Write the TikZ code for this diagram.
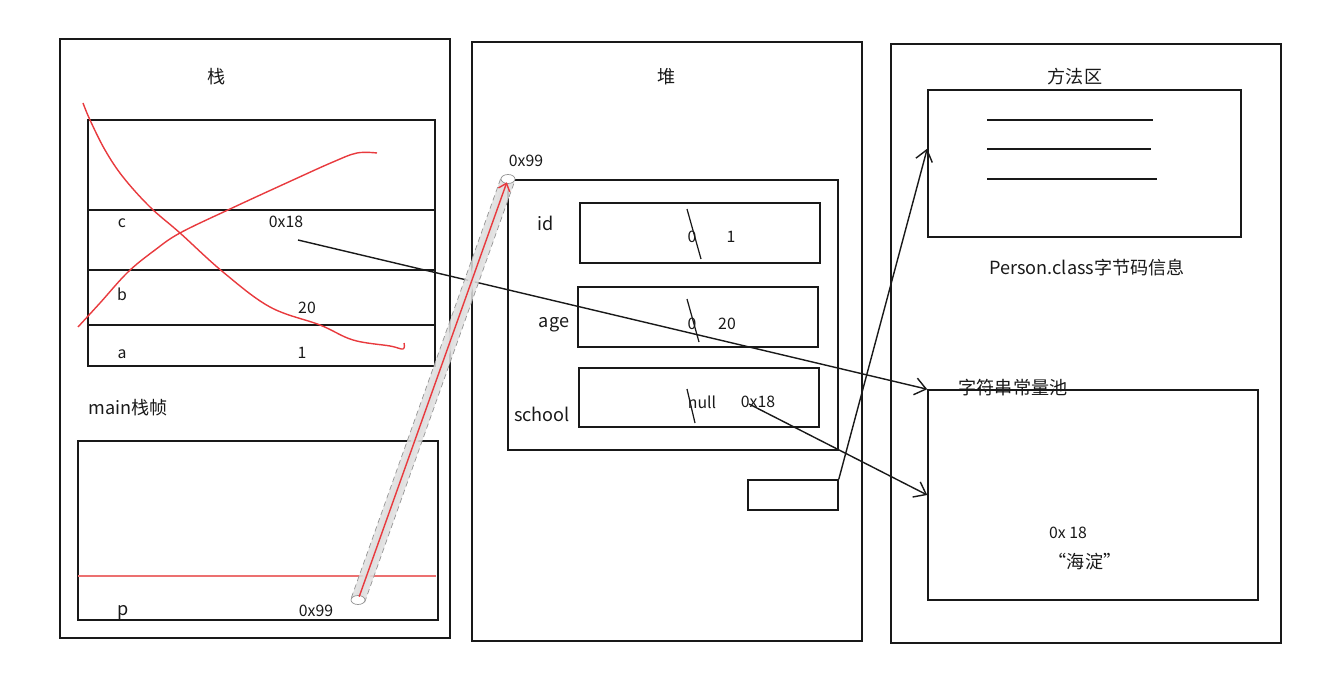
\documentclass[tikz,border=0pt]{standalone}
\usepackage{fontspec}
\setmainfont{Noto Sans CJK SC}
\usetikzlibrary{arrows.meta,calc}
\definecolor{Ink}{RGB}{25,25,25}
\definecolor{Pen}{RGB}{232,58,62}
\definecolor{SoftPen}{RGB}{236,112,112}
\definecolor{TubeGray}{RGB}{222,222,222}
\definecolor{TubeEdge}{RGB}{150,150,150}
\tikzset{
  area/.style={draw=Ink,line width=.9pt,inner sep=0pt,minimum width=7.8cm,minimum height=11.98cm},
  cell/.style={draw=Ink,line width=.9pt,inner sep=0pt},
  field/.style={cell,minimum width=4.8cm,minimum height=1.2cm},
  label/.style={font=\fontsize{10.3}{12}\selectfont,text=Ink,inner sep=0pt},
  value/.style={font=\fontsize{9}{11}\selectfont,text=Ink,inner sep=0pt},
  rule/.style={draw=Ink,line width=.9pt},
  strike/.style={draw=Ink,line width=.7pt},
  scrawl/.style={draw=Pen,line width=.8pt,line join=round},
  ref/.style={-{Straight Barb[length=2.2mm,width=3.4mm]},line width=.8pt,draw=Ink}
}
\begin{document}
\begin{tikzpicture}[x=0.02cm,y=-0.02cm]
  \useasboundingbox (0,0) rectangle (1318,675);
  % three memory areas
  \node[area] (stack) at (255,338.5) {};
  \node[area] (heap) at (667,341.5) {};
  \node[area] (method) at (1086,343.5) {};
  \node[label] (stacktitle) at (217,77) {栈};
  \node[label] (heaptitle) at (667,77) {堆};
  \node[label] (methodtitle) at (1075,77) {方法区};
  % stack frame
  \node[cell,minimum width=6.94cm,minimum height=4.92cm] (frame) at (261.5,243) {};
  \draw[rule] (88,210) -- (435,210);
  \draw[rule] (88,270) -- (435,270);
  \draw[rule] (88,325) -- (435,325);
  \node[value] (varc) at (122,223) {c};
  \node[value] (valc) at (286,222) {0x18};
  \node[value] (varb) at (122,294) {b};
  \node[value] (valb) at (307,308) {20};
  \node[value] (vara) at (122,354) {a};
  \node[value] (vala) at (302,353) {1};
  \draw[scrawl] plot[smooth,tension=.6] coordinates {(83,103) (90,120) (105,150) (123,177) (150,207) (180,233) (223,272) (270,307) (320,325) (353,340) (390,346) (403,349) (404,343)};
  \draw[scrawl] plot[smooth,tension=.6] coordinates {(78,327) (100,303) (128,272) (155,250) (180,233) (230,209) (293,180) (333,162) (357,153) (377,153)};
  \node[label] (maintitle) at (128,408) {main栈帧};
  \node[cell,minimum width=7.2cm,minimum height=3.58cm] (mainbox) at (258,530.5) {};
  \draw[SoftPen,line width=1pt] (78,576) -- (436,576);
  \node[label] (varp) at (123,613) {p};
  \node[value] (valp) at (316,611) {0x99};
  % heap object
  \node[cell,minimum width=6.6cm,minimum height=5.4cm] (obj) at (673,315) {};
  \node[value] (objaddr) at (526,161) {0x99};
  \node[field] (idbox) at (700,233) {};
  \node[field] (agebox) at (698,317) {};
  \node[field,minimum height=1.18cm] (schoolbox) at (699,397.5) {};
  \node[label] (idname) at (546,223) {id};
  \node[label] (agename) at (554,325) {age};
  \node[label] (schoolname) at (542,414) {school};
  \node[value] (idold) at (692,237) {0};
  \node[value] (idnew) at (731,237) {1};
  \node[value] (ageold) at (692,324) {0};
  \node[value] (agenew) at (727,324) {20};
  \node[value] (schoolold) at (702,402) {null};
  \node[value] (schoolnew) at (758,402) {0x18};
  \draw[strike] (687,209) -- (701,259);
  \draw[strike] (687,299) -- (699,342);
  \draw[strike] (687,389) -- (695,423);
  \node[cell,minimum width=1.8cm,minimum height=.6cm] (classref) at (793,495) {};
  % method area
  \node[cell,minimum width=6.26cm,minimum height=2.94cm] (classbox) at (1084.5,163.5) {};
  \draw[rule] (987,120) -- (1153,120);
  \draw[rule] (987,149) -- (1151,149);
  \draw[rule] (987,179) -- (1157,179);
  \node[label] (classname) at (1087,268) {Person.class字节码信息};
  \node[cell,minimum width=6.6cm,minimum height=4.2cm] (pool) at (1093,495) {};
  \node[label] (pooltitle) at (1013,388) {字符串常量池};
  \node[value] (strptr) at (1068,533) {0x 18};
  \node[label] (strval) at (1085,562) {“海淀”};
  % references
  \coordinate (cref) at (298,240);
  \coordinate (sref) at (749,404);
  \draw[ref] (cref) -- (pool.north west);
  \draw[ref] (sref) -- (pool.west);
  \draw[ref] (classref.north east) -- ($(classbox.north west)!.4!(classbox.south west)$);
  % pointer p -> object
  \coordinate (tail) at (358,600);
  \coordinate (head) at (508,179);
  \fill[TubeGray,opacity=.85] ($(tail)!4pt!90:(head)$) -- ($(head)!4pt!-90:(tail)$) -- ($(head)!4pt!90:(tail)$) -- ($(tail)!4pt!-90:(head)$) -- cycle;
  \draw[white!88!black,line width=4pt,opacity=.8] (tail) -- (head);
  \draw[TubeEdge,densely dashed,line width=.4pt] ($(tail)!4pt!90:(head)$) -- ($(head)!4pt!-90:(tail)$);
  \draw[TubeEdge,densely dashed,line width=.4pt] ($(tail)!4pt!-90:(head)$) -- ($(head)!4pt!90:(tail)$);
  \draw[TubeEdge,fill=white,line width=.4pt] (tail) ellipse [x radius=7,y radius=4.5];
  \draw[TubeEdge,fill=white,line width=.4pt] (head) ellipse [x radius=7,y radius=4.5];
  \draw[Pen,line width=.8pt,-{Straight Barb[length=1.4mm,width=2.4mm]},shorten >=2pt,shorten <=2pt] (tail) -- (head);
\end{tikzpicture}
\end{document}
